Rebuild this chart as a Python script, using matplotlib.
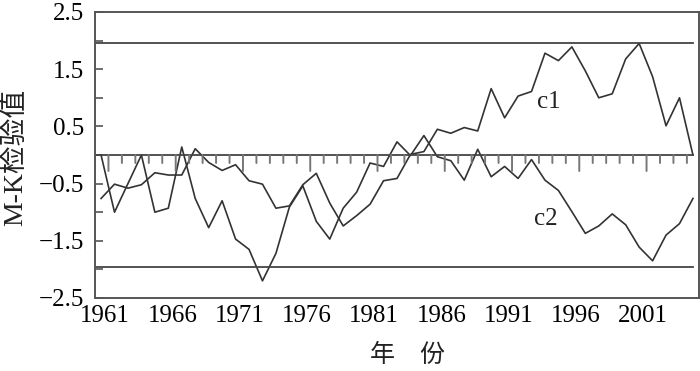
import matplotlib
matplotlib.use("Agg")
import matplotlib.pyplot as plt
import numpy as np

years = list(range(1961, 2006))
c1 = [-0.76, -0.51, -0.58, -0.52, -0.31, -0.35, -0.35, 0.11, -0.13, -0.27,
      -0.17, -0.45, -0.51, -0.93, -0.89, -0.52, -0.32, -0.84, -1.24, -1.06,
      -0.86, -0.45, -0.41, 0.01, 0.06, 0.45, 0.38, 0.48, 0.42, 1.16,
      0.65, 1.03, 1.11, 1.78, 1.65, 1.89, 1.47, 1.00, 1.07, 1.68,
      1.95, 1.37, 0.51, 1.00, 0.00]
c2 = [0.00, -1.00, -0.50, 0.00, -1.00, -0.93, 0.14, -0.76, -1.27, -0.80,
      -1.47, -1.65, -2.20, -1.72, -0.91, -0.54, -1.16, -1.47, -0.93, -0.65,
      -0.14, -0.20, 0.23, -0.01, 0.34, -0.03, -0.10, -0.44, 0.10, -0.38,
      -0.20, -0.41, -0.08, -0.44, -0.62, -0.99, -1.37, -1.24, -1.03, -1.22,
      -1.61, -1.85, -1.40, -1.20, -0.76]
xtick_years = [1961, 1966, 1971, 1976, 1981, 1986, 1991, 1996, 2001]
ytick_vals = [-2.5, -2.0, -1.5, -1.0, -0.5, 0.0, 0.5, 1.0, 1.5, 2.0, 2.5]
ylabel_vals = [-2.5, -1.5, -0.5, 0.5, 1.5, 2.5]
crit = 1.96

serif = ['Liberation Serif', 'DejaVu Serif']
cjk = ['Liberation Serif', 'Noto Sans CJK SC']
plt.rcParams['font.family'] = serif
plt.rcParams['axes.unicode_minus'] = True

fig = plt.figure(figsize=(7.0, 3.71), dpi=100)
ax = fig.add_axes([95/700, 1-298/371, 604/700, 286/371])

lc = '#333333'
ax.plot(years, c1, color=lc, lw=1.2)
ax.plot(years, c2, color=lc, lw=1.2)

x0, x1 = 1960.55, 2005.45
ax.set_xlim(x0, x1)
ax.set_ylim(-2.5, 2.5)

for yv in (crit, -crit, 0.0):
    ax.plot([x0, years[-1]], [yv, yv], color='#444444', lw=1.3)

# ticks on the zero line
for yr in years[:-1]:
    xt = yr + 0.55
    long = (yr - 1961) % 5 == 0
    ax.annotate('', xy=(xt, 0), xytext=(0, -(16 if long else 8)),
                textcoords='offset pixels', xycoords='data',
                arrowprops=dict(arrowstyle='-', color='#777777', lw=1.4,
                                shrinkA=0, shrinkB=0))

ax.set_xticks([y + 0.3 for y in xtick_years])
ax.set_xticklabels([str(y) for y in xtick_years], fontsize=18)
ax.tick_params(axis='x', length=0, pad=5)

ax.set_yticks(ytick_vals)
ax.set_yticklabels([('\u2212%.1f' % abs(v) if v < 0 else '%.1f' % v) if v in ylabel_vals else ''
                    for v in ytick_vals], fontsize=18)
ax.tick_params(axis='y', direction='in', length=6, width=1.2, color='#555555', pad=8)

for s in ax.spines.values():
    s.set_color('#555555')
    s.set_linewidth(1.4)

ax.text(1993.4, 0.82, 'c1', fontsize=18, ha='left', va='baseline', color='#222222')
ax.text(1993.2, -1.22, 'c2', fontsize=18, ha='left', va='baseline', color='#222222')

fig.text(15/700, 1-157/371, 'M-K检验值', rotation=90, ha='center', va='center',
         fontsize=20, family=cjk, color='#222222')
fig.text(408/700, 1-355/371, '年\u3000份', ha='center', va='center',
         fontsize=18, family=['Noto Sans CJK SC', 'DejaVu Sans'], color='#222222')

fig.savefig('out.png', dpi=100)
